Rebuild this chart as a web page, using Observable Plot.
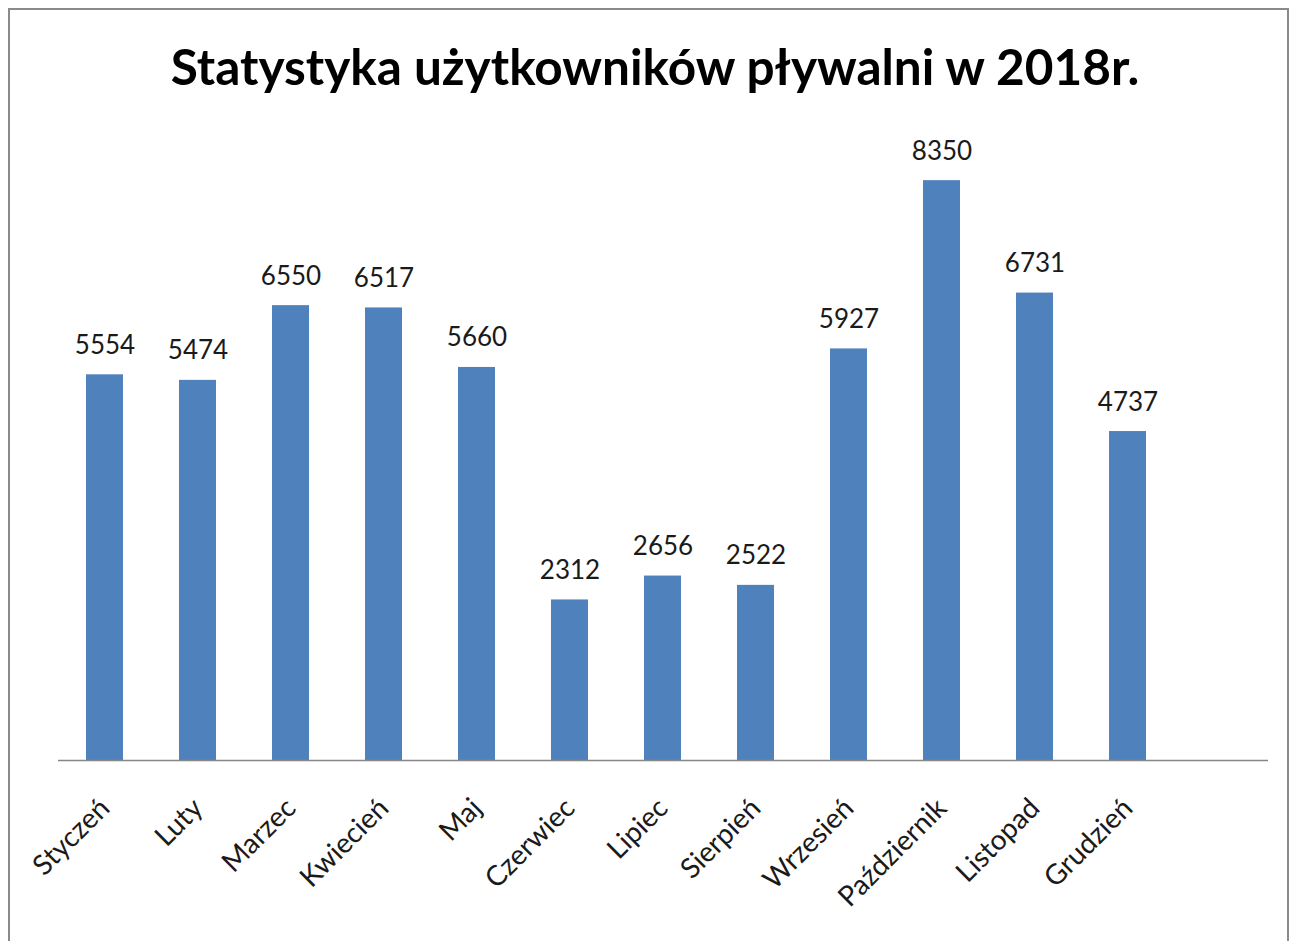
<!DOCTYPE html>
<html>
<head>
<meta charset="utf-8">
<script src="https://cdn.jsdelivr.net/npm/d3@7"></script>
<script src="https://cdn.jsdelivr.net/npm/@observablehq/plot@0.6"></script>
<style>
  html, body { margin: 0; padding: 0; background: #fff; overflow: hidden; }
  #wrap { position: relative; width: 1289px; height: 941px; }
  #frame { position: absolute; left: 8px; top: 8px; width: 1281px; height: 960px; border: 2px solid #8a8a8a; box-sizing: border-box; }
  #title { position: absolute; left: 0; top: 37px; width: 1310px; text-align: center; font-family: Lato, sans-serif; font-weight: bold; font-size: 49.5px; color: #000; margin: 0; line-height: 1.2; }
  #chart { position: absolute; left: 0; top: 0; }
</style>
</head>
<body>
<div id="wrap">
  <div id="frame"></div>
  <div id="chart"></div>
  <h1 id="title">Statystyka użytkowników pływalni w 2018r.</h1>
</div>
<script>
const months = ["Styczeń","Luty","Marzec","Kwiecień","Maj","Czerwiec","Lipiec","Sierpień","Wrzesień","Październik","Listopad","Grudzień"];
const users = [5554, 5474, 6550, 6517, 5660, 2312, 2656, 2522, 5927, 8350, 6731, 4737];
const yMax = 9000;

const data = months.map((m, i) => ({month: m, value: users[i]}));

const chart = Plot.plot({
  width: 1289,
  height: 941,
  marginTop: 135,
  marginBottom: 181,
  marginLeft: 58,
  marginRight: 21,
  style: {fontFamily: "Lato, sans-serif", background: "transparent"},
  x: {domain: [...months, ""], paddingInner: 0.6, paddingOuter: 0.3, align: 0.5, label: null},
  y: {domain: [0, yMax], axis: null},
  marks: [
    Plot.barY(data, {x: "month", y: "value", fill: "#4F81BD"}),
    Plot.ruleY([0], {stroke: "#868686", strokeWidth: 1.5}),
    Plot.text(data, {x: "month", y: "value", text: d => String(d.value), lineAnchor: "bottom", dy: -21, fontSize: 26, fill: "#1a1a1a"}),
    Plot.axisX({tickSize: 0, tickPadding: 43, tickRotate: -45, fontSize: 28, fill: "#1a1a1a", label: null})
  ]
});
document.getElementById("chart").appendChild(chart);
</script>
</body>
</html>
